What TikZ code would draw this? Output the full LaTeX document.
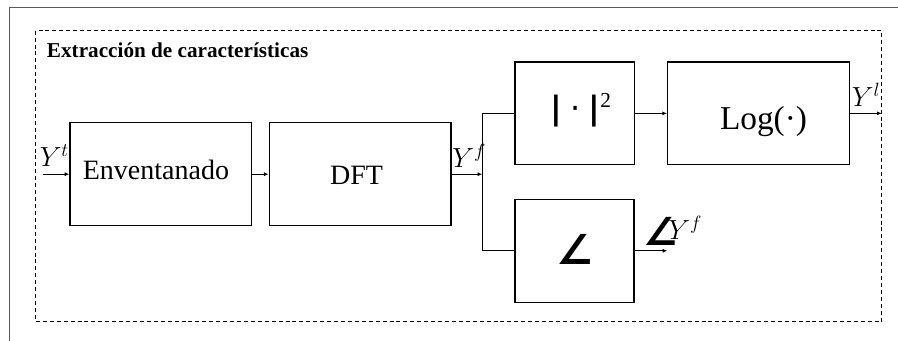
\documentclass[tikz,border=0pt]{standalone}
\usepackage{fontspec}
\setmainfont{Liberation Serif}
\newfontfamily\angfont{DejaVu Sans}
\usetikzlibrary{arrows.meta}
\tikzset{
  blk/.style={draw, line width=1pt, inner sep=0pt},
  conn/.style={line width=0.75pt, -{Latex[length=3.5pt,width=3pt]}},
  wire/.style={line width=0.75pt},
  lbl/.style={inner sep=0pt, anchor=base west, font=\fontsize{19.5}{20}\selectfont},
  txt/.style={inner sep=0pt, anchor=base, font=\fontsize{21}{21}\selectfont},
}
\begin{document}
\begin{tikzpicture}[x=0.75pt,y=-0.75pt]
\useasboundingbox (0,0) rectangle (898,341);
% outer partial frame
\draw[line width=1.1pt, black!65] (9.3,341) -- (9.3,7.5) -- (898,7.5);
% dashed group
\draw[line width=1pt, dash pattern=on 3pt off 2.2pt] (35.7,30.7) rectangle (881.7,321.7);
\node[inner sep=0pt, anchor=base west, font=\fontsize{15.9}{16}\selectfont\bfseries] (title) at (46.7,58) {Extracción de características};
% boxes
\node[blk, minimum width=136.3pt, minimum height=77.25pt] (env) at (160.85,174.2) {};
\node[blk, minimum width=136.3pt, minimum height=77.25pt] (dft) at (360.15,174.2) {};
\node[blk, minimum width=89.8pt, minimum height=77pt] (mag) at (574.85,113.35) {};
\node[blk, minimum width=136.2pt, minimum height=77pt] (log) at (758.5,113.35) {};
\node[blk, minimum width=89.3pt, minimum height=77.25pt] (ang) at (574.5,250.8) {};
% box texts
\node[txt] (envt) at (155.9,180) {Enventanado};
\node[txt] (dftt) at (356.5,185) {DFT};
\node[inner sep=0pt, anchor=base, font=\fontsize{24}{24}\selectfont] (magt) at (581,120) {{\angfont\bfseries|}\kern6pt{\angfont·}\kern6pt{\angfont\bfseries|}\raisebox{9pt}{\fontsize{16}{16}\selectfont 2}};
\node[inner sep=0pt, anchor=base, font=\fontsize{25}{25}\selectfont] (logt) at (763.5,130) {Log(·)};
\node[inner sep=0pt, anchor=base, font=\fontsize{31}{31}\selectfont\angfont\bfseries] (angt) at (575,265) {∠};
% coordinates
\coordinate (in) at (42.7,174.2);
\coordinate (split) at (482.3,174.2);
\coordinate (out) at (881.7,113.35);
\coordinate (aout) at (667.3,250.8);
% connectors
\draw[conn] (in) -- (env.west);
\draw[conn] (env.east) -- (dft.west);
\draw[conn] (dft.east) -- (split);
\draw[wire] (mag.west) -| (split) |- (ang.west);
\draw[conn] (mag.east) -- (log.west);
\draw[conn] (log.east) -- (out);
\draw[conn] (ang.east) -- (aout);
% labels
\node[lbl] (yt) at (39.5,167) {$Y^t$};
\node[lbl] (yf) at (452,168) {$Y^f$};
\node[lbl] (yl) at (851.5,107) {$Y^l$};
\node[inner sep=0pt, anchor=base west, font=\fontsize{29}{29}\selectfont\angfont\bfseries] (angl) at (643,246) {∠};
\node[lbl, anchor=base west] (yfa) at (668,240) {$Y^f$};
\end{tikzpicture}
\end{document}
